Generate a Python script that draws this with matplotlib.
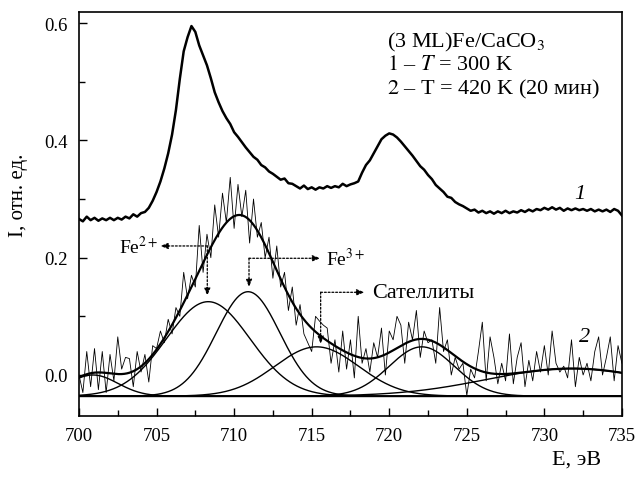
import numpy as np
import matplotlib
matplotlib.use('Agg')
import matplotlib.pyplot as plt

plt.rcParams['font.family'] = ['Liberation Serif', 'DejaVu Serif']
plt.rcParams['mathtext.fontset'] = 'stix'

# ----------------------------------------
# Data
# ----------------------------------------
e_start, e_step = 700.0, 0.25

# curve 1: T = 300 K
curve1 = [
    0.266, 0.262, 0.270, 0.264, 0.268, 0.263, 0.267, 0.264, 0.268, 0.264,
    0.268, 0.265, 0.270, 0.267, 0.274, 0.270, 0.276, 0.278, 0.285, 0.297,
    0.312, 0.330, 0.352, 0.378, 0.410, 0.452, 0.505, 0.552, 0.576, 0.595,
    0.585, 0.562, 0.545, 0.528, 0.506, 0.482, 0.465, 0.450, 0.438, 0.428,
    0.414, 0.406, 0.397, 0.388, 0.380, 0.372, 0.367, 0.358, 0.354, 0.347,
    0.343, 0.338, 0.333, 0.335, 0.327, 0.326, 0.322, 0.318, 0.323, 0.317,
    0.320, 0.316, 0.320, 0.318, 0.322, 0.319, 0.322, 0.320, 0.326, 0.322,
    0.325, 0.327, 0.330, 0.345, 0.358, 0.366, 0.378, 0.390, 0.402, 0.408,
    0.412, 0.410, 0.405, 0.398, 0.390, 0.382, 0.374, 0.365, 0.356, 0.350,
    0.341, 0.334, 0.324, 0.318, 0.312, 0.304, 0.302, 0.295, 0.291, 0.288,
    0.284, 0.280, 0.282, 0.277, 0.280, 0.276, 0.279, 0.275, 0.279, 0.276,
    0.280, 0.276, 0.279, 0.277, 0.281, 0.278, 0.282, 0.279, 0.283, 0.281,
    0.285, 0.282, 0.286, 0.282, 0.285, 0.280, 0.284, 0.281, 0.284, 0.281,
    0.283, 0.280, 0.283, 0.279, 0.282, 0.279, 0.282, 0.278, 0.283, 0.280,
    0.272,
]

# curve 2: T = 420 K (20 min), raw noisy spectrum
curve2 = [
    0.000, -0.030, 0.040, -0.020, 0.045, -0.025, 0.040, -0.030, 0.035, -0.010,
    0.065, 0.010, 0.030, 0.028, -0.020, 0.040, 0.005, 0.035, -0.012, 0.050,
    0.045, 0.075, 0.055, 0.095, 0.070, 0.115, 0.100, 0.175, 0.130, 0.170,
    0.150, 0.255, 0.175, 0.240, 0.200, 0.290, 0.235, 0.310, 0.260, 0.337,
    0.250, 0.325, 0.270, 0.315, 0.225, 0.300, 0.235, 0.260, 0.200, 0.235,
    0.165, 0.220, 0.150, 0.175, 0.110, 0.150, 0.085, 0.120, 0.070, 0.055,
    0.040, 0.100, 0.092, 0.085, 0.080, 0.020, 0.060, 0.005, 0.075, 0.010,
    0.060, -0.005, 0.100, 0.020, 0.045, 0.005, 0.055, 0.030, 0.080, 0.000,
    0.075, 0.060, 0.100, 0.085, 0.020, 0.090, 0.060, 0.110, 0.030, 0.075,
    0.055, 0.060, 0.020, 0.115, 0.040, 0.060, 0.000, 0.030, 0.010, 0.020,
    -0.035, 0.010, -0.005, 0.040, 0.090, -0.010, 0.065, 0.030, -0.015, 0.020,
    -0.010, 0.070, -0.015, 0.030, 0.055, -0.020, 0.025, -0.010, 0.040, 0.005,
    0.050, 0.000, 0.075, 0.020, 0.005, 0.015, -0.005, 0.060, -0.020, 0.030,
    0.000, 0.020, -0.010, 0.040, 0.065, 0.000, 0.030, 0.065, -0.010, 0.050,
    0.020,
]

# fit of curve 2: gaussian components (centre, height, sigma) over a flat background
background = -0.036
peak_centres = [700.9, 708.33, 710.9, 715.32, 722.1, 731.8]
peak_heights = [0.036, 0.161, 0.178, 0.084, 0.084, 0.047]
peak_sigmas = [1.6, 2.7, 2.05, 2.7, 2.1, 5.5]

energy = e_start + e_step * np.arange(len(curve1))
energy2 = e_start + e_step * np.arange(len(curve2))

# ----------------------------------------
# Plot
# ----------------------------------------
fig = plt.figure(figsize=(6.35, 4.81), dpi=100)
ax = fig.add_axes([0.1244, 0.133, 0.855, 0.840])

grid = np.linspace(700, 735, 1401)
components = []
for c, h, s in zip(peak_centres, peak_heights, peak_sigmas):
    components.append(h * np.exp(-(grid - c) ** 2 / (2 * s ** 2)))
envelope = background + np.sum(components, axis=0)

ax.axhline(background, color='black', lw=1.0)
for comp in components:
    ax.plot(grid, background + comp, color='black', lw=1.0)
ax.plot(energy2, curve2, color='black', lw=0.6)
ax.plot(grid, envelope, color='black', lw=1.6)
ax.plot(energy, curve1, color='black', lw=1.8)

# dotted arrows to the components
dots = (0, (1.5, 1.5))
arrow = dict(arrowstyle='-|>,head_length=0.45,head_width=0.18', color='black',
             lw=0.9, ls=dots, shrinkA=0, shrinkB=0)
corners = [(708.27, 0.220), (710.96, 0.199), (715.58, 0.141)]
side_ends = [705.25, 715.55, 718.4]
down_ends = [0.135, 0.150, 0.053]
for (cx, cy), sx, dy in zip(corners, side_ends, down_ends):
    ax.annotate('', xy=(sx, cy), xytext=(cx, cy), arrowprops=arrow)
    ax.annotate('', xy=(cx, dy), xytext=(cx, cy), arrowprops=arrow)

ax.text(705.1, 0.220, r'Fe$^{2+}$', fontsize=14, ha='right', va='center')
ax.text(715.9, 0.199, r'Fe$^{3+}$', fontsize=14, ha='left', va='center')
ax.text(718.9, 0.141, 'Сателлиты', fontsize=16, ha='left', va='center')

ax.text(732.3, 0.309, '1', fontsize=16, style='italic', ha='center', va='center')
ax.text(732.6, 0.066, '2', fontsize=16, style='italic', ha='center', va='center')

ax.text(719.85, 0.569, r'(3 ML)Fe/CaCO$_3$', fontsize=16, ha='left', va='center')
ax.text(719.85, 0.530, r'$\mathit{1}$ – $\mathit{T}$ = 300 K', fontsize=16,
        ha='left', va='center')
ax.text(719.85, 0.488, r'$\mathit{2}$ – T = 420 K (20 мин)', fontsize=16,
        ha='left', va='center')

ax.set_xlim(700, 735)
ax.set_ylim(-0.070, 0.619)
ax.set_xticks([700, 705, 710, 715, 720, 725, 730, 735])
ax.set_xticks(np.arange(702.5, 735, 5), minor=True)
ax.set_yticks([0.0, 0.2, 0.4, 0.6])
ax.set_yticks([0.1, 0.3, 0.5], minor=True)
ax.set_yticklabels(['0.0', '0.2', '0.4', '0.6'])
ax.tick_params(which='both', direction='in', top=False, right=False,
               labelsize=13.5, width=1.0)
ax.tick_params(which='major', length=6, pad=8)
ax.tick_params(which='minor', length=4)
for sp in ax.spines.values():
    sp.set_linewidth(1.2)

fig.text(18 / 635, 1 - 195 / 481, 'I, отн. ед.', fontsize=15, rotation=90,
         ha='center', va='center')
fig.text(577 / 635, 1 - 460 / 481, 'E, эВ', fontsize=16, ha='center', va='center')

fig.savefig('out.png', dpi=100)
